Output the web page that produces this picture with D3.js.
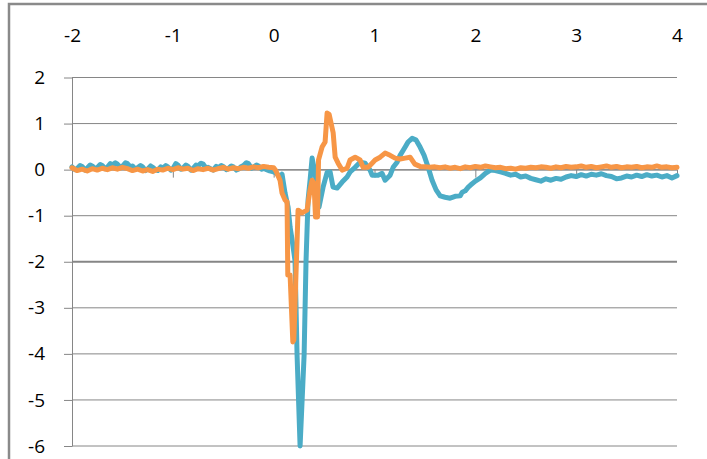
<!DOCTYPE html>
<html>
<head>
<meta charset="utf-8">
<script src="https://cdn.jsdelivr.net/npm/d3@7"></script>
<style>
  html, body { margin: 0; padding: 0; background: #fff; }
  svg { display: block; }
  .tick text { font-family: "Open Sans", sans-serif; font-size: 19px; fill: #000; }
</style>
</head>
<body>
<svg id="chart" width="707" height="459"></svg>
<script>
// Axis ticks
const xTicks = [-2, -1, 0, 1, 2, 3, 4];
const yTicks = [2, 1, 0, -1, -2, -3, -4, -5, -6];

// Series 1 (blue): [time, value]
const blueSeries = [
  [-2.00, 0.06], [-1.97, 0.00], [-1.95, 0.02], [-1.92, 0.09], [-1.90, 0.07], [-1.87, -0.01],
  [-1.85, 0.03], [-1.82, 0.10], [-1.80, 0.08], [-1.77, 0.02], [-1.75, 0.04], [-1.72, 0.11],
  [-1.70, 0.09], [-1.67, 0.02], [-1.65, 0.05], [-1.62, 0.13], [-1.60, 0.10], [-1.57, 0.15],
  [-1.55, 0.12], [-1.52, 0.05], [-1.50, 0.07], [-1.47, 0.15], [-1.45, 0.13], [-1.42, 0.06],
  [-1.40, 0.08], [-1.37, 0.01], [-1.35, 0.04], [-1.32, 0.09], [-1.30, 0.06], [-1.27, -0.02],
  [-1.25, 0.01], [-1.22, 0.08], [-1.20, 0.05], [-1.17, 0.00], [-1.15, -0.02], [-1.12, 0.06],
  [-1.10, 0.03], [-1.07, 0.09], [-1.05, 0.06], [-1.02, -0.01], [-1.00, 0.02], [-0.97, 0.13],
  [-0.95, 0.10], [-0.92, 0.01], [-0.90, 0.03], [-0.87, 0.10], [-0.85, 0.07], [-0.82, -0.01],
  [-0.80, 0.02], [-0.77, 0.10], [-0.75, 0.08], [-0.72, 0.14], [-0.70, 0.12], [-0.67, 0.03],
  [-0.65, 0.05], [-0.62, 0.01], [-0.60, -0.01], [-0.57, 0.07], [-0.55, 0.04], [-0.52, 0.09],
  [-0.50, 0.07], [-0.47, 0.00], [-0.45, 0.02], [-0.42, 0.08], [-0.40, 0.06], [-0.37, -0.01],
  [-0.35, 0.01], [-0.32, 0.07], [-0.30, 0.09], [-0.27, 0.15], [-0.25, 0.13], [-0.22, 0.03],
  [-0.20, 0.05], [-0.17, 0.10], [-0.15, 0.08], [-0.12, 0.01], [-0.10, 0.03], [-0.07, 0.00],
  [-0.05, -0.02], [0.00, -0.05], [0.03, -0.08],
  [0.063, -0.16], [0.083, -0.10], [0.113, -0.51], [0.143, -0.81], [0.163, -1.25], [0.183, -1.53],
  [0.212, -1.98], [0.232, -4.02], [0.262, -6.00], [0.302, -4.02], [0.321, -1.98], [0.341, -0.66],
  [0.361, -0.23], [0.381, 0.25], [0.411, -0.08], [0.45, -0.81], [0.49, -0.38], [0.53, -0.06],
  [0.56, -0.05], [0.589, -0.38], [0.629, -0.40], [0.679, -0.27], [0.728, -0.16], [0.758, -0.05],
  [0.808, 0.05], [0.857, 0.16], [0.907, 0.14], [0.956, -0.01], [0.976, -0.12], [1.036, -0.12],
  [1.075, -0.08], [1.105, -0.23], [1.155, -0.12], [1.185, 0.05], [1.224, 0.16], [1.254, 0.31],
  [1.304, 0.49], [1.333, 0.60], [1.373, 0.68], [1.413, 0.64], [1.452, 0.49], [1.492, 0.31],
  [1.532, 0.05], [1.571, -0.23], [1.611, -0.44], [1.651, -0.57], [1.70, -0.60], [1.75, -0.62],
  [1.80, -0.58], [1.849, -0.57], [1.87, -0.49], [1.90, -0.46], [1.93, -0.38], [1.95, -0.34],
  [2.00, -0.25], [2.05, -0.18], [2.10, -0.08], [2.15, -0.01], [2.20, -0.02], [2.25, -0.05],
  [2.30, -0.08], [2.35, -0.12], [2.40, -0.10], [2.45, -0.16], [2.50, -0.14], [2.55, -0.19],
  [2.60, -0.22], [2.65, -0.25], [2.70, -0.20], [2.75, -0.23], [2.80, -0.19], [2.85, -0.21],
  [2.90, -0.16], [2.95, -0.13], [3.00, -0.15], [3.05, -0.11], [3.10, -0.14], [3.15, -0.10],
  [3.20, -0.12], [3.25, -0.09], [3.30, -0.13], [3.35, -0.15], [3.40, -0.20], [3.45, -0.18],
  [3.50, -0.14], [3.55, -0.16], [3.60, -0.12], [3.65, -0.15], [3.70, -0.11], [3.75, -0.14],
  [3.80, -0.12], [3.85, -0.16], [3.90, -0.13], [3.95, -0.18], [4.00, -0.13]
];

// Series 2 (orange): [time, value]
const orangeSeries = [
  [-2.00, 0.04], [-1.95, -0.02], [-1.90, 0.01], [-1.85, -0.03], [-1.80, 0.02], [-1.75, -0.01],
  [-1.70, 0.03], [-1.65, 0.00], [-1.60, 0.04], [-1.55, 0.01], [-1.50, 0.05], [-1.45, 0.02],
  [-1.40, -0.02], [-1.35, 0.01], [-1.30, -0.03], [-1.25, 0.00], [-1.20, -0.04], [-1.15, 0.01],
  [-1.10, -0.01], [-1.05, 0.03], [-1.00, 0.00], [-0.95, 0.04], [-0.90, 0.01], [-0.85, 0.03],
  [-0.80, -0.02], [-0.75, 0.02], [-0.70, 0.00], [-0.65, 0.03], [-0.60, -0.01], [-0.55, 0.02],
  [-0.50, 0.05], [-0.45, 0.01], [-0.40, 0.04], [-0.35, 0.02], [-0.30, 0.05], [-0.25, 0.03],
  [-0.20, 0.06], [-0.15, 0.04], [-0.10, 0.07], [-0.05, 0.05], [0.00, 0.04], [0.02, -0.02],
  [0.063, -0.23], [0.083, -0.51], [0.113, -0.66], [0.133, -0.70], [0.14, -2.29], [0.163, -2.29],
  [0.19, -3.74], [0.20, -3.70], [0.242, -0.88], [0.282, -0.94], [0.331, -0.88], [0.361, -0.44],
  [0.381, -0.23], [0.40, -0.30], [0.415, -1.03], [0.435, -1.03], [0.445, 0.21], [0.48, 0.49],
  [0.51, 0.60], [0.53, 1.23], [0.55, 1.20], [0.57, 1.00], [0.59, 0.80], [0.61, 0.27],
  [0.639, 0.14], [0.679, -0.01], [0.728, 0.03], [0.758, 0.21], [0.808, 0.27], [0.857, 0.21],
  [0.887, 0.05], [0.937, 0.05], [0.976, 0.14], [1.006, 0.21], [1.056, 0.27], [1.105, 0.36],
  [1.155, 0.31], [1.204, 0.25], [1.254, 0.23], [1.304, 0.25], [1.353, 0.27], [1.40, 0.12],
  [1.452, 0.07], [1.50, 0.06], [1.55, 0.05], [1.60, 0.06], [1.65, 0.04], [1.70, 0.06],
  [1.75, 0.03], [1.80, 0.05], [1.85, 0.02], [1.90, 0.06], [1.95, 0.04], [2.00, 0.07],
  [2.05, 0.05], [2.10, 0.08], [2.15, 0.06], [2.20, 0.04], [2.25, 0.05], [2.30, 0.02],
  [2.35, 0.03], [2.40, 0.01], [2.45, 0.04], [2.50, 0.03], [2.55, 0.05], [2.60, 0.04],
  [2.65, 0.06], [2.70, 0.05], [2.75, 0.03], [2.80, 0.06], [2.85, 0.04], [2.90, 0.07],
  [2.95, 0.05], [3.00, 0.06], [3.05, 0.08], [3.10, 0.05], [3.15, 0.07], [3.20, 0.04],
  [3.25, 0.06], [3.30, 0.08], [3.35, 0.05], [3.40, 0.07], [3.45, 0.04], [3.50, 0.06],
  [3.55, 0.05], [3.60, 0.07], [3.65, 0.04], [3.70, 0.06], [3.75, 0.05], [3.80, 0.08],
  [3.85, 0.05], [3.90, 0.06], [3.95, 0.04], [4.00, 0.05]
];

const svg = d3.select("#chart");
const gridColor = "#868686";

// Outer chart frame
svg.append("rect")
  .attr("x", 9).attr("y", 4)
  .attr("width", 740).attr("height", 500)
  .attr("fill", "none")
  .attr("stroke", "#8a8a8a")
  .attr("stroke-width", 2.5);

const x = d3.scaleLinear().domain([-2, 4]).range([72, 677]);
const y = d3.scaleLinear().domain([-6, 2]).range([446, 77.5]);

// Horizontal gridlines
svg.append("g")
  .selectAll("line")
  .data(yTicks)
  .join("line")
  .attr("x1", x(-2)).attr("x2", x(4))
  .attr("y1", d => y(d)).attr("y2", d => y(d))
  .attr("stroke", gridColor)
  .attr("stroke-width", d => d === -2 ? 2 : 1);

// Vertical axis with outside ticks
const yAxis = svg.append("g")
  .attr("transform", `translate(${x(-2)},0)`)
  .call(d3.axisLeft(y).tickValues(yTicks).tickSize(8).tickSizeOuter(0)
    .tickPadding(19).tickFormat(d => String(d)));
yAxis.select(".domain").attr("stroke", gridColor);
yAxis.selectAll(".tick line").attr("stroke", gridColor);

// Horizontal axis crossing at zero, ticks pointing down
const xAxis = svg.append("g")
  .attr("transform", `translate(0,${y(0)})`)
  .call(d3.axisBottom(x).tickValues(xTicks).tickSize(8).tickSizeOuter(0).tickFormat(""));
xAxis.select(".domain").attr("stroke", gridColor);
xAxis.selectAll(".tick line").attr("stroke", gridColor);

// Time labels along the top
const xLabels = svg.append("g")
  .attr("transform", "translate(0,35)")
  .call(d3.axisTop(x).tickValues(xTicks).tickSize(0).tickPadding(0).tickFormat(d => String(d)));
xLabels.select(".domain").remove();
xLabels.selectAll(".tick text").attr("dy", "0.35em");

// Traces
const line = d3.line().x(d => x(d[0])).y(d => y(d[1]));

svg.append("path")
  .datum(blueSeries)
  .attr("d", line)
  .attr("fill", "none")
  .attr("stroke", "#4BACC6")
  .attr("stroke-width", 5)
  .attr("stroke-linejoin", "round")
  .attr("stroke-linecap", "round");

svg.append("path")
  .datum(orangeSeries)
  .attr("d", line)
  .attr("fill", "none")
  .attr("stroke", "#F79646")
  .attr("stroke-width", 5)
  .attr("stroke-linejoin", "round")
  .attr("stroke-linecap", "round");
</script>
</body>
</html>
